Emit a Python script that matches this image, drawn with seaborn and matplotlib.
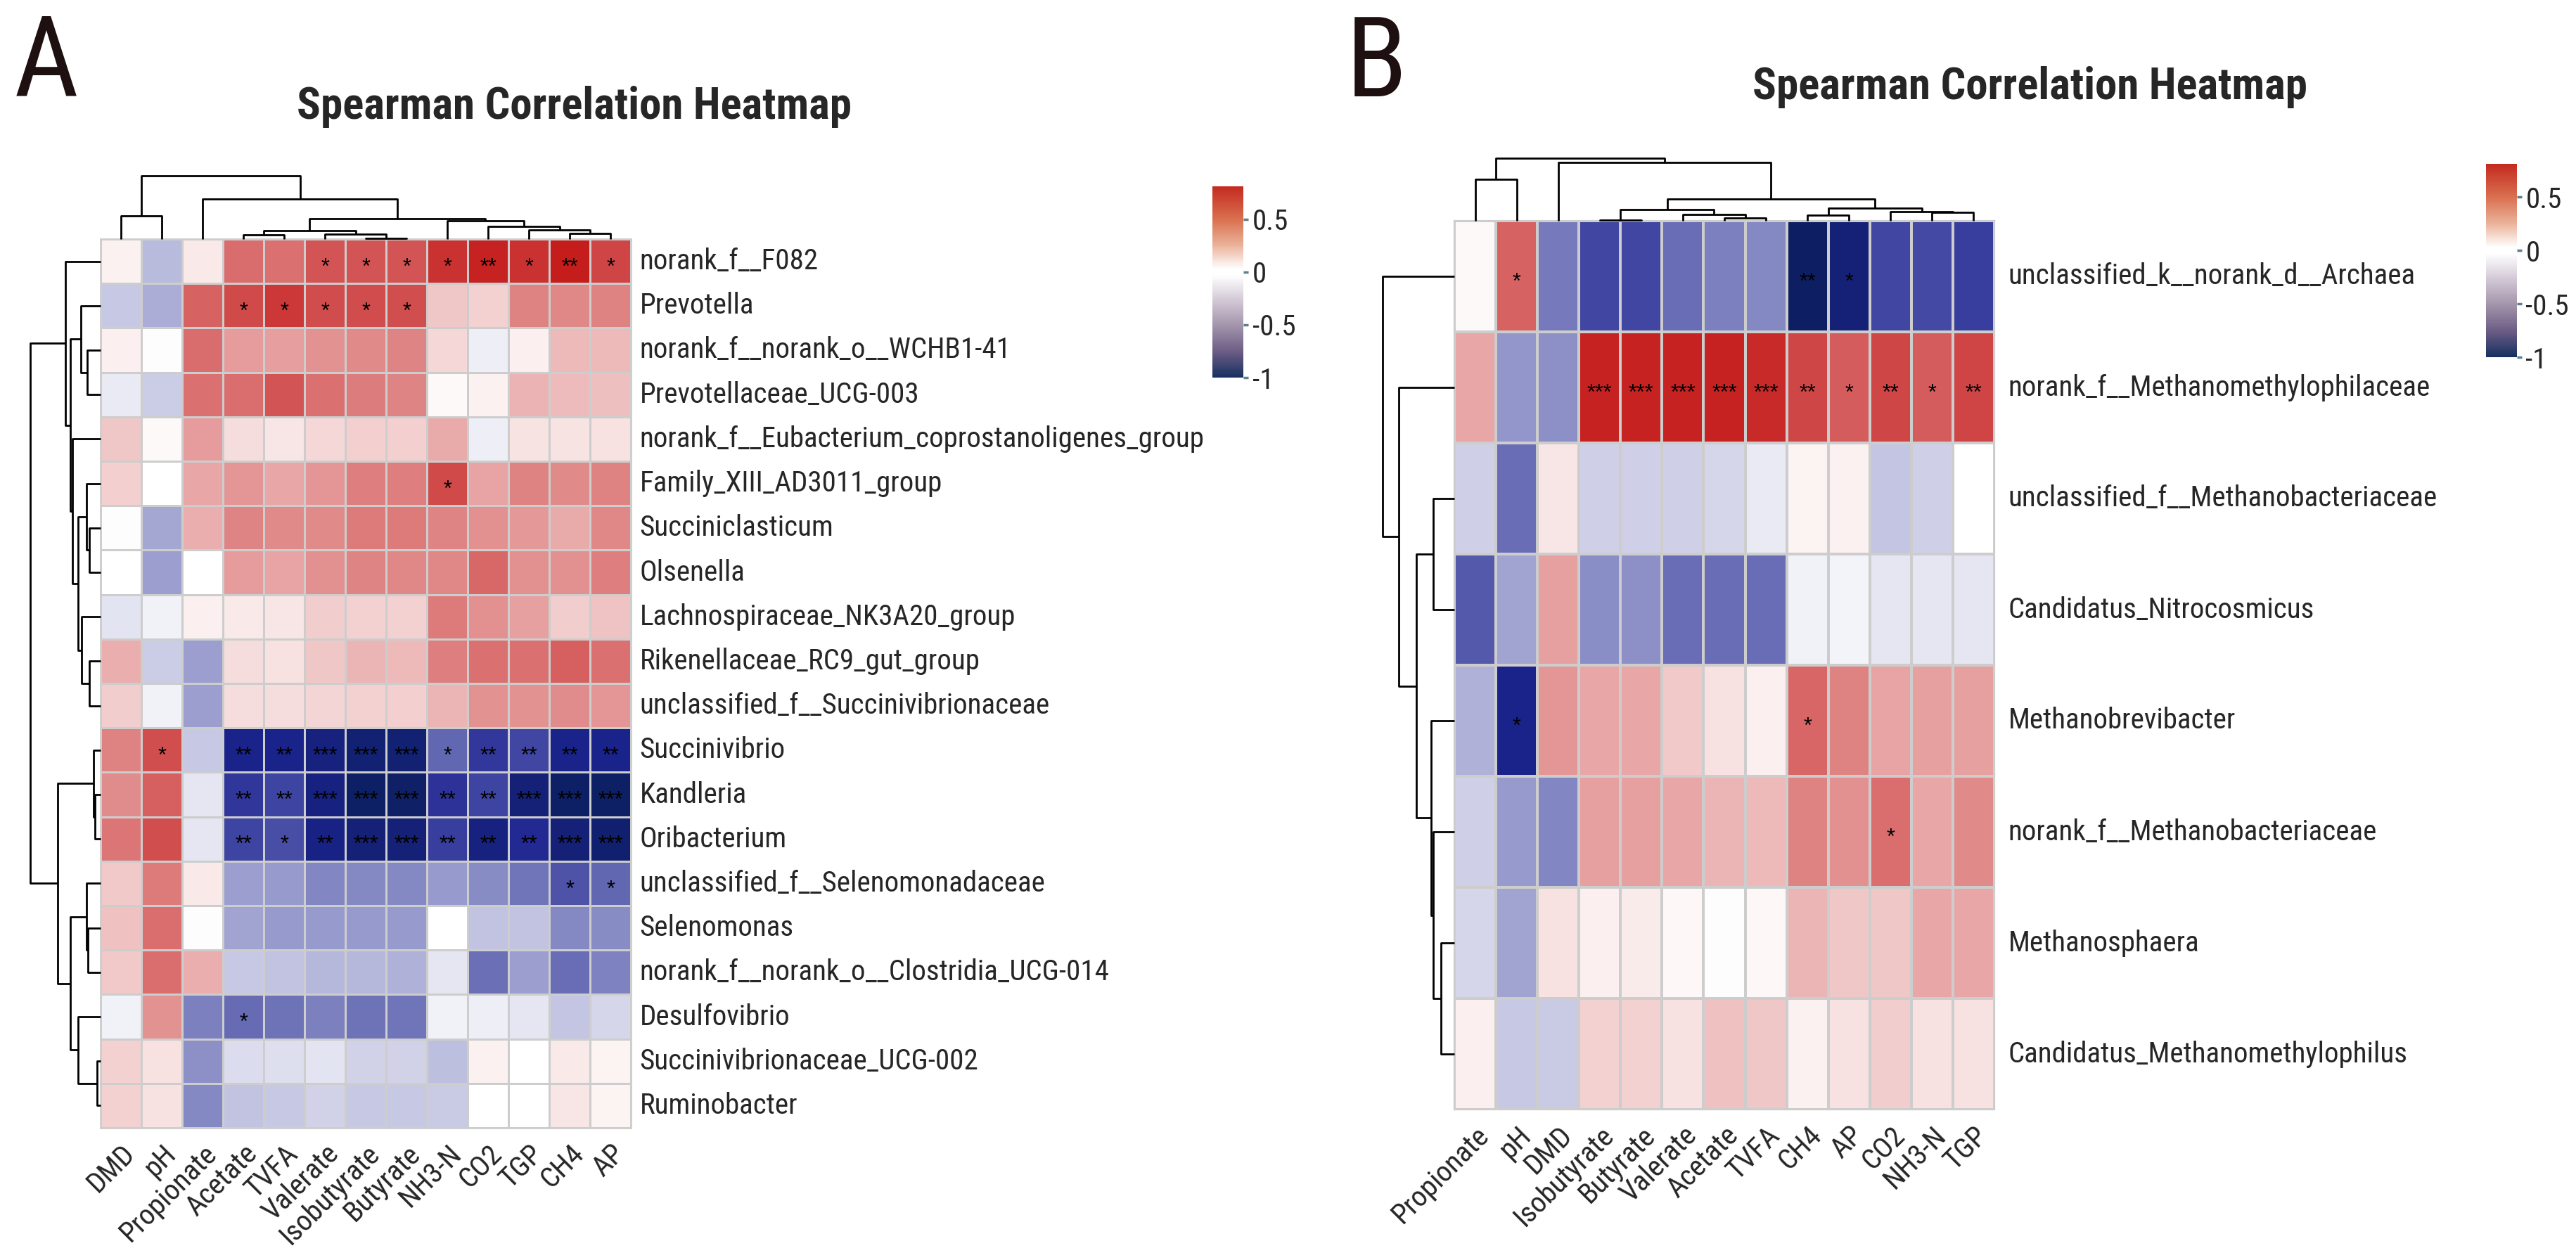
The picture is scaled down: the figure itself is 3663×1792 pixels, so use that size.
import numpy as np
import pandas as pd
import matplotlib
matplotlib.use("Agg")
import matplotlib.pyplot as plt
import seaborn as sns
from matplotlib import font_manager
from matplotlib.font_manager import FontProperties
from matplotlib.textpath import TextPath
from matplotlib.colors import LinearSegmentedColormap, Normalize
from matplotlib.cm import ScalarMappable
from matplotlib.transforms import ScaledTranslation

# ------------------------------------------------------------------ data
TITLE = "Spearman Correlation Heatmap"

A_rows = ["norank_f__F082", "Prevotella", "norank_f__norank_o__WCHB1-41",
          "Prevotellaceae_UCG-003", "norank_f__Eubacterium_coprostanoligenes_group",
          "Family_XIII_AD3011_group", "Succiniclasticum", "Olsenella",
          "Lachnospiraceae_NK3A20_group", "Rikenellaceae_RC9_gut_group",
          "unclassified_f__Succinivibrionaceae", "Succinivibrio", "Kandleria",
          "Oribacterium", "unclassified_f__Selenomonadaceae", "Selenomonas",
          "norank_f__norank_o__Clostridia_UCG-014", "Desulfovibrio",
          "Succinivibrionaceae_UCG-002", "Ruminobacter"]
A_cols = ["DMD", "pH", "Propionate", "Acetate", "TVFA", "Valerate", "Isobutyrate",
          "Butyrate", "NH3-N", "CO2", "TGP", "CH4", "AP"]

A_DMD = [0.05, -0.2, 0.06, -0.08, 0.2, 0.17, -0.01, 0.0, -0.1, 0.28, 0.18, 0.44, 0.4, 0.48, 0.19, 0.22, 0.19, -0.05, 0.16, 0.16]
A_pH = [-0.25, -0.3, 0.01, -0.18, 0.02, 0.0, -0.32, -0.35, -0.05, -0.18, -0.05, 0.62, 0.56, 0.62, 0.47, 0.51, 0.51, 0.38, 0.11, 0.11]
A_Propionate = [0.08, 0.55, 0.52, 0.5, 0.35, 0.31, 0.28, 0.0, 0.06, -0.35, -0.35, -0.2, -0.09, -0.09, 0.08, 0.01, 0.28, -0.46, -0.4, -0.43]
A_Acetate = [0.52, 0.64, 0.35, 0.51, 0.12, 0.37, 0.43, 0.35, 0.08, 0.12, 0.12, -0.82, -0.73, -0.68, -0.35, -0.33, -0.2, -0.54, -0.13, -0.22]
A_TVFA = [0.5, 0.7, 0.34, 0.6, 0.09, 0.31, 0.41, 0.32, 0.09, 0.11, 0.12, -0.82, -0.68, -0.64, -0.37, -0.37, -0.22, -0.51, -0.12, -0.2]
A_Valerate = [0.6, 0.63, 0.38, 0.5, 0.14, 0.37, 0.41, 0.39, 0.18, 0.2, 0.15, -0.87, -0.86, -0.84, -0.44, -0.37, -0.26, -0.46, -0.1, -0.16]
A_Isobutyrate = [0.6, 0.63, 0.41, 0.46, 0.17, 0.45, 0.47, 0.43, 0.16, 0.26, 0.16, -0.92, -0.97, -0.9, -0.43, -0.37, -0.26, -0.51, -0.16, -0.2]
A_Butyrate = [0.6, 0.62, 0.43, 0.43, 0.17, 0.45, 0.47, 0.42, 0.16, 0.25, 0.17, -0.92, -0.96, -0.9, -0.43, -0.37, -0.28, -0.5, -0.16, -0.2]
A_NH3N = [0.72, 0.2, 0.14, 0.02, 0.3, 0.64, 0.43, 0.42, 0.47, 0.45, 0.26, -0.55, -0.74, -0.7, -0.37, 0.0, -0.09, -0.05, -0.23, -0.19]
A_CO2 = [0.78, 0.16, -0.06, 0.05, -0.06, 0.32, 0.39, 0.53, 0.39, 0.5, 0.38, -0.72, -0.68, -0.86, -0.42, -0.22, -0.52, -0.06, 0.05, 0.0]
A_TGP = [0.72, 0.44, 0.06, 0.27, 0.1, 0.44, 0.36, 0.39, 0.33, 0.5, 0.38, -0.67, -0.9, -0.78, -0.5, -0.22, -0.35, -0.09, 0.0, 0.0]
A_CH4 = [0.8, 0.42, 0.25, 0.24, 0.1, 0.41, 0.3, 0.39, 0.18, 0.56, 0.4, -0.82, -0.97, -0.9, -0.62, -0.43, -0.53, -0.21, 0.08, 0.09]
A_AP = [0.66, 0.44, 0.25, 0.23, 0.11, 0.44, 0.42, 0.45, 0.21, 0.5, 0.37, -0.82, -0.97, -0.93, -0.55, -0.42, -0.45, -0.15, 0.04, 0.04]

# significance level (number of stars) per column, rows in A_rows order
A_sig_DMD = [0] * 20
A_sig_pH = [0, 0, 0, 0, 0, 0, 0, 0, 0, 0, 0, 1, 0, 0, 0, 0, 0, 0, 0, 0]
A_sig_Propionate = [0] * 20
A_sig_Acetate = [0, 1, 0, 0, 0, 0, 0, 0, 0, 0, 0, 2, 2, 2, 0, 0, 0, 1, 0, 0]
A_sig_TVFA = [0, 1, 0, 0, 0, 0, 0, 0, 0, 0, 0, 2, 2, 1, 0, 0, 0, 0, 0, 0]
A_sig_Valerate = [1, 1, 0, 0, 0, 0, 0, 0, 0, 0, 0, 3, 3, 2, 0, 0, 0, 0, 0, 0]
A_sig_Isobutyrate = [1, 1, 0, 0, 0, 0, 0, 0, 0, 0, 0, 3, 3, 3, 0, 0, 0, 0, 0, 0]
A_sig_Butyrate = [1, 1, 0, 0, 0, 0, 0, 0, 0, 0, 0, 3, 3, 3, 0, 0, 0, 0, 0, 0]
A_sig_NH3N = [1, 0, 0, 0, 0, 1, 0, 0, 0, 0, 0, 1, 2, 2, 0, 0, 0, 0, 0, 0]
A_sig_CO2 = [2, 0, 0, 0, 0, 0, 0, 0, 0, 0, 0, 2, 2, 2, 0, 0, 0, 0, 0, 0]
A_sig_TGP = [1, 0, 0, 0, 0, 0, 0, 0, 0, 0, 0, 2, 3, 2, 0, 0, 0, 0, 0, 0]
A_sig_CH4 = [2, 0, 0, 0, 0, 0, 0, 0, 0, 0, 0, 2, 3, 3, 1, 0, 0, 0, 0, 0]
A_sig_AP = [1, 0, 0, 0, 0, 0, 0, 0, 0, 0, 0, 2, 3, 3, 1, 0, 0, 0, 0, 0]

B_rows = ["unclassified_k__norank_d__Archaea", "norank_f__Methanomethylophilaceae",
          "unclassified_f__Methanobacteriaceae", "Candidatus_Nitrocosmicus",
          "Methanobrevibacter", "norank_f__Methanobacteriaceae", "Methanosphaera",
          "Candidatus_Methanomethylophilus"]
B_cols = ["Propionate", "pH", "DMD", "Isobutyrate", "Butyrate", "Valerate", "Acetate",
          "TVFA", "CH4", "AP", "CO2", "NH3-N", "TGP"]

B_Propionate = [0.02, 0.31, -0.17, -0.6, -0.28, -0.17, -0.15, 0.06]
B_pH = [0.55, -0.38, -0.53, -0.33, -0.82, -0.37, -0.33, -0.2]
B_DMD = [-0.48, -0.4, 0.09, 0.33, 0.37, -0.44, 0.11, -0.19]
B_Isobutyrate = [-0.67, 0.78, -0.17, -0.41, 0.31, 0.33, 0.06, 0.16]
B_Butyrate = [-0.67, 0.78, -0.17, -0.4, 0.31, 0.33, 0.07, 0.16]
B_Valerate = [-0.53, 0.78, -0.17, -0.53, 0.19, 0.31, 0.03, 0.11]
B_Acetate = [-0.46, 0.78, -0.15, -0.53, 0.11, 0.26, 0.01, 0.22]
B_TVFA = [-0.43, 0.75, -0.08, -0.53, 0.06, 0.25, 0.03, 0.2]
B_CH4 = [-0.98, 0.65, 0.04, -0.05, 0.54, 0.44, 0.26, 0.05]
B_AP = [-0.9, 0.57, 0.05, -0.04, 0.44, 0.39, 0.2, 0.11]
B_CO2 = [-0.67, 0.65, -0.21, -0.09, 0.32, 0.51, 0.2, 0.18]
B_NH3N = [-0.66, 0.57, -0.17, -0.09, 0.33, 0.31, 0.31, 0.11]
B_TGP = [-0.7, 0.66, 0.0, -0.09, 0.33, 0.41, 0.31, 0.11]

B_sig_Propionate = [0] * 8
B_sig_pH = [1, 0, 0, 0, 1, 0, 0, 0]
B_sig_DMD = [0] * 8
B_sig_Isobutyrate = [0, 3, 0, 0, 0, 0, 0, 0]
B_sig_Butyrate = [0, 3, 0, 0, 0, 0, 0, 0]
B_sig_Valerate = [0, 3, 0, 0, 0, 0, 0, 0]
B_sig_Acetate = [0, 3, 0, 0, 0, 0, 0, 0]
B_sig_TVFA = [0, 3, 0, 0, 0, 0, 0, 0]
B_sig_CH4 = [2, 2, 0, 0, 1, 0, 0, 0]
B_sig_AP = [1, 1, 0, 0, 0, 0, 0, 0]
B_sig_CO2 = [0, 2, 0, 0, 0, 1, 0, 0]
B_sig_NH3N = [0, 1, 0, 0, 0, 0, 0, 0]
B_sig_TGP = [0, 2, 0, 0, 0, 0, 0, 0]

# dendrogram merges: (child_a, child_b, height); leaves are 0..n-1 in display order,
# merge k creates node n+k
A_row_link = [(12, 13, 8), (11, 20, 10), (18, 19, 5), (17, 22, 32), (15, 16, 18),
              (14, 24, 20), (25, 23, 43), (21, 26, 61), (2, 3, 19), (1, 28, 28),
              (6, 7, 16), (5, 30, 20), (9, 10, 16), (8, 32, 27), (31, 33, 32),
              (4, 34, 40), (29, 35, 43), (0, 36, 50), (37, 27, 100)]
A_col_link = [(0, 1, 33), (6, 7, 0.6), (5, 14, 7), (3, 4, 6), (16, 15, 12), (11, 12, 8),
              (10, 18, 13), (9, 19, 18), (8, 20, 26), (17, 21, 29), (2, 22, 57), (13, 23, 90)]
B_row_link = [(2, 3, 30), (6, 7, 19), (5, 9, 30), (4, 10, 33), (8, 11, 54), (1, 12, 79),
              (0, 13, 102)]
B_col_link = [(0, 1, 58.7), (3, 4, 0.6), (6, 7, 4.4), (5, 15, 9.4), (14, 16, 16), (8, 9, 8),
              (11, 12, 12), (10, 19, 13), (18, 20, 18.5), (17, 21, 31), (2, 22, 83),
              (13, 23, 89.3)]

VMIN, VMAX = -1.0, 0.81
CB_TICKS = [-1, -0.5, 0, 0.5]
CB_LABELS = ["-1", "-0.5", "0", "0.5"]

# ------------------------------------------------------------------ fonts
def pick(fams):
    for f in fams:
        try:
            font_manager.findfont(FontProperties(family=f), fallback_to_default=False)
            return f
        except Exception:
            pass
    return "Liberation Sans"

NARROW = pick(["Liberation Sans Narrow", "Arial Narrow", "Roboto Condensed",
               "Archivo Narrow", "PT Sans Narrow", "Barlow Semi Condensed",
               "Pragati Narrow", "Liberation Sans"])
REG = pick(["Liberation Sans", "Arial", "DejaVu Sans"])

sns.set_theme(style="white")
plt.rcParams["font.family"] = [NARROW, REG, "DejaVu Sans"]
plt.rcParams["axes.unicode_minus"] = False

W, H, DPI = 3663, 1792, 100


def width_px(s, size, weight="normal"):
    tp = TextPath((0, 0), s, prop=FontProperties(family=NARROW, size=size, weight=weight))
    return tp.get_extents().width * DPI / 72.0


def fit_size(s, base, target, weight="normal"):
    w = width_px(s, base, weight)
    return float(np.clip(base * target / w, base * 0.8, base * 1.15))

LAB = fit_size("unclassified_k__norank_d__Archaea", 30, 575)
TIT = fit_size(TITLE, 46, 785, "bold")
STAR = 22

# ------------------------------------------------------------------ figure
fig = plt.figure(figsize=(W / DPI, H / DPI), dpi=DPI, facecolor="white")


def ax_px(x0, y0, x1, y1):
    return fig.add_axes([x0 / W, 1 - y1 / H, (x1 - x0) / W, (y1 - y0) / H])


def npos(v):
    return (v - VMIN) / (VMAX - VMIN)

cmap = LinearSegmentedColormap.from_list(
    "rwb", [(0.0, "#0c1f5e"), (npos(-0.8), "#1c2390"), (npos(0), "#ffffff"),
            (1.0, "#c41a1a")])
cmap_bar = LinearSegmentedColormap.from_list(
    "bar", [(0.0, "#173060"), (npos(-0.75), "#6e5e86"), (npos(-0.5), "#a596ad"),
            (npos(-0.25), "#d6cdd9"), (npos(-0.03), "#ffffff"), (npos(0.03), "#ffffff"),
            (npos(0.25), "#ebb39b"), (npos(0.5), "#d9704f"), (1.0, "#c42a20")])


def star_frame(cols, sig_lists, rows):
    d = {c: ["*" * s for s in lst] for c, lst in zip(cols, sig_lists)}
    return pd.DataFrame(d, index=rows)


def link_segments(link, n):
    pos = {i: i + 0.5 for i in range(n)}
    hgt = {i: 0.0 for i in range(n)}
    segs = []
    for k, (a, b, h) in enumerate(link):
        pa, pb = pos[a], pos[b]
        segs.append(([pa, pa, pb, pb], [hgt[a], h, h, hgt[b]]))
        pos[n + k] = (pa + pb) / 2
        hgt[n + k] = h
    return segs


def draw_col_dendro(ax, link, n):
    top = max(h for _, _, h in link)
    for p, h in link_segments(link, n):
        ax.plot(p, h, color="black", lw=2.0, solid_capstyle="butt", clip_on=False)
    ax.set_xlim(0, n)
    ax.set_ylim(0, top)
    ax.axis("off")


def draw_row_dendro(ax, link, n):
    top = max(h for _, _, h in link)
    for p, h in link_segments(link, n):
        ax.plot(h, p, color="black", lw=2.0, solid_capstyle="butt", clip_on=False)
    ax.set_ylim(n, 0)
    ax.set_xlim(top, 0)
    ax.axis("off")


def draw_heatmap(ax, cax, df, stars, gridlw, ypad, xpad):
    sns.heatmap(df, ax=ax, cmap=cmap, vmin=VMIN, vmax=VMAX, linewidths=gridlw,
                linecolor="#cdcdcd", annot=stars, fmt="",
                annot_kws={"size": STAR, "color": "black", "family": REG}, cbar=False,
                xticklabels=True, yticklabels=True)
    for t in ax.texts:
        t.set_transform(t.get_transform() +
                        ScaledTranslation(0, -0.3 * STAR / 72, fig.dpi_scale_trans))
    ax.yaxis.tick_right()
    ax.tick_params(axis="y", length=0, pad=ypad, labelsize=LAB, labelrotation=0)
    ax.tick_params(axis="x", length=0, pad=xpad, labelsize=LAB)
    for lab in ax.get_yticklabels():
        lab.set_ha("left")
        lab.set_va("center")
    for lab in ax.get_xticklabels():
        lab.set_rotation(45)
        lab.set_ha("right")
        lab.set_va("top")
        lab.set_rotation_mode("anchor")
    ax.set_xlabel("")
    ax.set_ylabel("")
    for s in ax.spines.values():
        s.set_visible(True)
        s.set_color("#cdcdcd")
        s.set_linewidth(gridlw)
    cb = fig.colorbar(ScalarMappable(Normalize(VMIN, VMAX), cmap_bar), cax=cax,
                      ticks=CB_TICKS)
    cb.set_ticklabels(CB_LABELS)
    cb.outline.set_visible(False)
    cax.tick_params(length=5, width=2.5, color="#5f7f8c", labelsize=LAB, pad=4)


# ------------------------------------------------------------------ panel A
dfA = pd.DataFrame({"DMD": A_DMD, "pH": A_pH, "Propionate": A_Propionate,
                    "Acetate": A_Acetate, "TVFA": A_TVFA, "Valerate": A_Valerate,
                    "Isobutyrate": A_Isobutyrate, "Butyrate": A_Butyrate,
                    "NH3-N": A_NH3N, "CO2": A_CO2, "TGP": A_TGP, "CH4": A_CH4,
                    "AP": A_AP}, index=A_rows)[A_cols]
starsA = star_frame(A_cols, [A_sig_DMD, A_sig_pH, A_sig_Propionate, A_sig_Acetate,
                             A_sig_TVFA, A_sig_Valerate, A_sig_Isobutyrate,
                             A_sig_Butyrate, A_sig_NH3N, A_sig_CO2, A_sig_TGP,
                             A_sig_CH4, A_sig_AP], A_rows)

axA = ax_px(143, 340, 897, 1604)
caxA = ax_px(1724, 265, 1768, 537)
draw_heatmap(axA, caxA, dfA, starsA, 2.0, 9, 12)
draw_col_dendro(ax_px(143, 250, 897, 340), A_col_link, len(A_cols))
draw_row_dendro(ax_px(43, 340, 143, 1604), A_row_link, len(A_rows))

# ------------------------------------------------------------------ panel B
dfB = pd.DataFrame({"Propionate": B_Propionate, "pH": B_pH, "DMD": B_DMD,
                    "Isobutyrate": B_Isobutyrate, "Butyrate": B_Butyrate,
                    "Valerate": B_Valerate, "Acetate": B_Acetate, "TVFA": B_TVFA,
                    "CH4": B_CH4, "AP": B_AP, "CO2": B_CO2, "NH3-N": B_NH3N,
                    "TGP": B_TGP}, index=B_rows)[B_cols]
starsB = star_frame(B_cols, [B_sig_Propionate, B_sig_pH, B_sig_DMD, B_sig_Isobutyrate,
                             B_sig_Butyrate, B_sig_Valerate, B_sig_Acetate,
                             B_sig_TVFA, B_sig_CH4, B_sig_AP, B_sig_CO2,
                             B_sig_NH3N, B_sig_TGP], B_rows)

axB = ax_px(2068, 314, 2836, 1578)
caxB = ax_px(3535, 233, 3579, 508)
draw_heatmap(axB, caxB, dfB, starsB, 1.6, 14, 12)
draw_col_dendro(ax_px(2068, 225, 2836, 314), B_col_link, len(B_cols))
draw_row_dendro(ax_px(1966, 314, 2068, 1578), B_row_link, len(B_rows))

# ------------------------------------------------------------------ titles / letters
fig.text(422 / W, 1 - 169 / H, TITLE, ha="left", va="baseline", fontsize=TIT,
         fontweight="bold")
fig.text(2492 / W, 1 - 141 / H, TITLE, ha="left", va="baseline", fontsize=TIT,
         fontweight="bold")
fig.text(20 / W, 1 - 137 / H, "A", ha="left", va="baseline", fontsize=115,
         color="#1e1010")
fig.text(1914 / W, 1 - 137 / H, "B", ha="left", va="baseline", fontsize=115,
         color="#1e1010")

fig.savefig("out.png", dpi=DPI, facecolor="white")
